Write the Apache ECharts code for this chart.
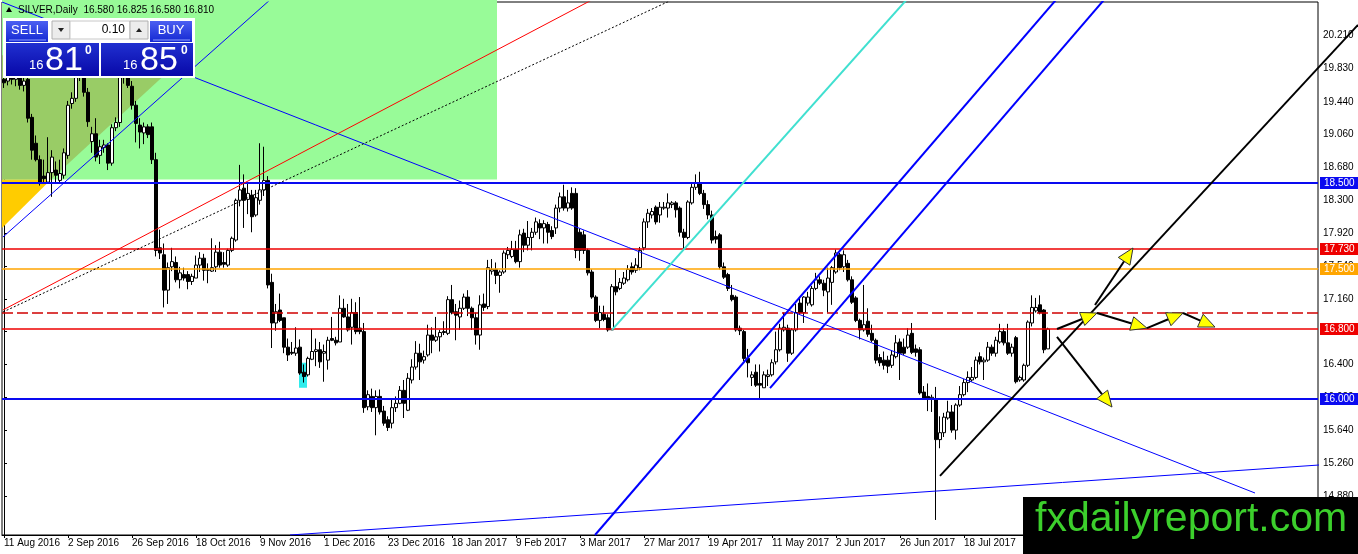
<!DOCTYPE html>
<html>
<head>
<meta charset="utf-8">
<script src="https://cdn.jsdelivr.net/npm/echarts@6/dist/echarts.min.js"></script>
<style>
  html, body { margin: 0; padding: 0; background: #fff; }
  #chart { width: 1358px; height: 554px; }
</style>
</head>
<body>
<div id="chart"></div>
<script>
// date labels, one every 16 bars
const dateLabels = ['11 Aug 2016', '2 Sep 2016', '26 Sep 2016', '18 Oct 2016', '9 Nov 2016', '1 Dec 2016',
  '23 Dec 2016', '18 Jan 2017', '9 Feb 2017', '3 Mar 2017', '27 Mar 2017', '19 Apr 2017', '11 May 2017',
  '2 Jun 2017', '26 Jun 2017', '18 Jul 2017']

// daily candles
const opens = [19.70,19.68,19.73,19.70,19.72,19.63,19.70,19.26,18.96,18.77,18.58,18.51,18.62,18.65,18.53,18.59,18.82,19.42,19.48,19.75,
  19.80,19.55,18.98,19.07,18.82,18.91,18.94,18.73,19.14,19.20,19.72,19.85,19.62,19.40,19.17,19.08,19.15,19.15,18.77,17.75,
  17.67,17.26,17.53,17.58,17.38,17.44,17.44,17.36,17.40,17.55,17.63,17.50,17.48,17.53,17.70,17.58,17.55,17.72,17.84,18.30,
  18.44,18.31,18.36,18.13,18.30,18.42,18.53,17.35,16.88,17.03,16.94,16.60,16.54,16.53,16.60,16.31,16.28,16.46,16.55,16.57,
  16.53,16.45,16.70,16.68,16.66,17.05,16.95,16.83,17.00,16.82,16.78,15.91,16.03,15.90,16.03,15.86,15.76,15.72,15.90,15.95,
  16.10,15.87,16.22,16.37,16.53,16.45,16.51,16.74,16.68,16.72,16.78,16.76,17.15,17.01,16.95,17.05,17.18,17.05,16.94,16.74,
  17.10,17.07,17.48,17.50,17.43,17.47,17.67,17.65,17.73,17.59,17.92,17.78,17.87,17.93,18.03,17.98,18.02,17.95,17.98,18.21,
  18.34,18.21,18.38,18.38,17.93,17.90,17.72,17.47,17.18,16.91,16.98,16.94,16.80,17.30,17.28,17.34,17.38,17.53,17.49,17.52,
  17.75,18.05,18.13,18.22,18.13,18.21,18.21,18.25,18.27,18.21,17.93,17.87,18.27,18.45,18.50,18.38,18.25,18.13,17.88,17.90,
  17.53,17.44,17.20,17.18,16.82,16.78,16.47,16.25,16.31,16.18,16.13,16.26,16.28,16.43,16.57,16.80,16.82,16.53,16.80,17.11,
  17.00,17.11,17.09,17.28,17.38,17.34,17.24,17.35,17.47,17.67,17.53,17.57,17.38,17.17,16.91,16.80,16.90,16.76,16.68,16.48,
  16.45,16.45,16.39,16.49,16.66,16.60,16.60,16.76,16.58,16.57,16.08,16.03,16.00,15.99,15.53,15.61,15.78,15.85,15.64,15.93,
  16.05,16.19,16.22,16.25,16.49,16.43,16.45,16.60,16.53,16.66,16.78,16.65,16.53,16.71,16.22,16.22,16.39,16.88,17.02,17.09,
  17.03,16.58]
const highs = [19.80,19.80,19.78,19.80,19.78,19.75,19.75,19.30,19.05,18.82,18.77,19.03,18.88,18.75,18.77,18.90,19.45,19.55,19.85,19.95,
  19.92,19.60,19.15,19.25,19.00,19.00,18.96,19.18,19.26,19.90,20.05,19.95,19.68,19.45,19.25,19.20,19.18,19.20,18.85,17.96,
  17.80,17.58,17.75,17.65,17.53,17.52,17.48,17.45,17.66,17.70,17.68,17.57,17.86,17.78,17.82,17.70,17.74,17.88,18.32,18.71,
  18.60,18.50,18.42,18.42,18.96,18.92,18.58,17.45,17.10,17.22,16.94,16.70,16.66,16.83,16.69,16.40,16.49,16.81,16.70,16.66,
  16.63,16.72,16.95,16.72,17.20,17.16,17.10,17.16,17.12,17.18,16.88,16.10,16.12,16.10,16.11,15.92,15.80,16.00,16.03,16.15,
  16.22,16.30,16.46,16.67,16.64,16.56,16.86,16.83,16.95,16.80,16.90,17.19,17.32,17.10,17.14,17.22,17.26,17.07,17.00,17.20,
  17.22,17.61,17.62,17.58,17.49,17.72,17.76,17.83,17.83,17.96,17.97,18.06,17.98,18.10,18.08,18.07,18.05,18.00,18.25,18.39,
  18.48,18.42,18.45,18.44,17.97,17.95,17.74,17.50,17.20,17.08,17.08,16.98,17.33,17.50,17.40,17.47,17.55,17.58,17.63,17.76,
  18.09,18.20,18.21,18.24,18.28,18.28,18.38,18.29,18.29,18.23,17.97,18.30,18.49,18.60,18.63,18.42,18.30,18.18,17.95,17.92,
  17.58,17.46,17.32,17.20,16.85,16.80,16.58,16.32,16.40,16.40,16.32,16.34,16.46,16.78,16.87,17.00,16.86,16.82,17.10,17.18,
  17.19,17.24,17.31,17.46,17.42,17.38,17.52,17.54,17.73,17.69,17.72,17.61,17.42,17.19,16.93,17.32,17.05,16.86,16.70,16.52,
  16.55,16.50,16.56,16.74,16.70,16.70,16.82,16.88,16.63,16.60,16.15,16.18,16.05,16.14,15.80,15.84,15.98,15.93,15.95,16.15,
  16.23,16.32,16.37,16.49,16.54,16.48,16.66,16.63,16.72,16.87,16.82,16.87,16.64,16.73,16.27,16.41,16.91,17.20,17.17,17.20,
  17.04,16.825]
const lows = [19.60,19.63,19.64,19.62,19.58,19.56,19.20,18.77,18.75,18.47,18.50,18.49,18.34,18.50,18.49,18.55,18.78,19.36,19.44,19.68,
  19.50,19.15,18.85,18.75,18.72,18.85,18.65,18.70,19.10,19.15,19.65,19.60,19.35,18.97,18.90,18.95,19.02,18.72,17.65,17.62,
  17.06,17.10,17.48,17.35,17.28,17.37,17.27,17.32,17.40,17.47,17.37,17.34,17.47,17.47,17.52,17.52,17.53,17.70,17.82,18.23,
  17.98,18.14,17.93,18.11,18.25,18.35,17.28,16.59,16.79,16.89,16.53,16.44,16.51,16.50,16.28,16.19,16.26,16.45,16.38,16.36,
  16.20,16.34,16.67,16.62,16.66,16.94,16.78,16.63,16.75,16.75,15.84,15.87,15.85,15.58,15.82,15.69,15.63,15.66,15.85,15.94,
  15.78,15.86,16.18,16.34,16.22,16.41,16.49,16.53,16.66,16.55,16.74,16.74,16.98,16.68,16.80,17.03,16.96,16.80,16.63,16.57,
  17.02,17.04,17.44,17.33,17.23,17.45,17.62,17.63,17.57,17.52,17.70,17.72,17.72,17.90,17.85,17.80,17.80,17.85,17.91,18.16,
  18.18,18.17,18.19,17.63,17.60,17.68,17.43,17.16,16.89,16.82,16.90,16.78,16.80,17.20,17.26,17.32,17.36,17.44,17.46,17.49,
  17.72,17.98,18.09,18.02,18.04,18.19,18.10,18.21,18.10,17.88,17.74,17.85,18.25,18.42,18.36,18.20,18.08,17.80,17.80,17.50,
  17.39,17.25,17.13,16.78,16.74,16.44,16.25,16.15,16.14,16.01,16.13,16.15,16.26,16.40,16.55,16.78,16.43,16.51,16.78,16.98,
  16.88,17.08,17.07,17.26,17.32,17.19,17.00,17.09,17.45,17.49,17.47,17.36,17.10,16.89,16.69,16.78,16.72,16.66,16.41,16.38,
  16.34,16.30,16.36,16.47,16.22,16.51,16.58,16.52,16.49,16.05,15.99,15.86,15.85,14.60,15.43,15.56,15.76,15.61,15.53,15.91,
  16.03,16.08,16.20,16.23,16.40,16.22,16.43,16.50,16.49,16.64,16.62,16.51,16.49,16.18,16.20,16.20,16.37,16.84,17.00,16.98,
  16.53,16.58]
const closes = [19.66,19.73,19.70,19.72,19.63,19.68,19.25,18.88,18.77,18.51,18.55,18.62,18.80,18.59,18.61,18.85,19.40,19.48,19.72,19.88,
  19.55,19.21,19.07,18.80,18.92,18.94,18.73,19.14,19.20,19.72,19.85,19.63,19.40,19.19,19.09,19.15,19.06,18.77,17.72,17.69,
  17.26,17.52,17.59,17.38,17.46,17.40,17.36,17.42,17.55,17.63,17.49,17.49,17.52,17.70,17.55,17.56,17.72,17.86,18.30,18.42,
  18.30,18.38,18.11,18.33,18.42,18.53,17.32,16.88,17.01,16.91,16.60,16.51,16.53,16.59,16.30,16.26,16.47,16.55,16.57,16.43,
  16.55,16.68,16.68,16.65,17.05,16.95,16.80,17.00,16.78,16.78,15.90,16.05,15.90,16.03,15.85,15.72,15.67,15.90,15.95,16.10,
  15.95,16.24,16.37,16.53,16.43,16.49,16.74,16.68,16.72,16.77,16.77,17.15,17.00,16.97,17.05,17.18,17.05,16.94,16.74,17.09,
  17.06,17.52,17.50,17.43,17.47,17.69,17.72,17.73,17.59,17.90,17.78,17.87,17.93,18.05,17.98,18.03,17.93,17.88,18.21,18.34,
  18.21,18.27,18.21,17.72,17.72,17.72,17.46,17.18,16.91,17.00,16.92,16.80,17.30,17.24,17.35,17.40,17.50,17.47,17.55,17.72,
  18.05,18.15,18.17,18.05,18.22,18.22,18.27,18.27,18.19,17.93,17.87,18.28,18.45,18.50,18.38,18.25,18.13,17.84,17.85,17.53,
  17.41,17.28,17.15,16.80,16.79,16.47,16.42,16.28,16.16,16.16,16.28,16.28,16.42,16.57,16.82,16.83,16.53,16.80,17.00,17.00,
  17.18,17.18,17.28,17.38,17.34,17.26,17.40,17.52,17.69,17.52,17.67,17.38,17.12,16.91,16.80,16.86,16.75,16.68,16.45,16.42,
  16.39,16.38,16.51,16.65,16.53,16.53,16.74,16.54,16.54,16.07,16.01,16.00,16.02,15.53,15.61,15.79,15.85,15.64,15.93,16.05,
  16.19,16.25,16.25,16.45,16.43,16.45,16.60,16.53,16.68,16.78,16.65,16.53,16.60,16.20,16.25,16.39,16.89,17.06,17.06,17.00,
  16.57,16.81]

// price scale
const yTicks = [14.88, 15.26, 15.64, 16.02, 16.40, 16.78, 17.16, 17.54, 17.92, 18.30, 18.68, 19.06, 19.44, 19.83, 20.21]
const yMin = 14.426
const yMax = 20.595
const slots = 329

// horizontal levels
const levelValues = [18.5, 17.73, 17.5, 17.0, 16.8, 16.0]
const levelColors = ['#0a0af0', '#ee0000', '#ffa500', '#d00000', '#ee0000', '#0a0af0']

// filled objects [bar, price]
const greenBox = [[-0.5, 18.54], [123.25, 18.54], [123.25, 20.7], [-0.5, 20.7]]
const goldLow = [[-0.5, 17.98], [-0.5, 18.54], [11.75, 18.54]]
const goldTop = [[-0.5, 18.54], [11.75, 18.54], [45.5, 19.98], [-0.5, 19.98]]
const cyanBox = [[73.75, 16.13], [75.75, 16.13], [75.75, 16.42], [73.75, 16.42]]

// trend lines [bar, price]
const blueDiag = [[-0.5, 20.595], [312.75, 14.912]]
const blueLow = [[71.5, 14.426], [330, 15.24]]
const blueTopLeft = [[-0.25, 17.875], [67, 20.64]]
const redDiag = [[-0.25, 17.03], [147, 20.62]]
const dotDiag = [[-0.25, 17.007], [167, 20.62]]
const cyanLine = [[152, 16.80], [226, 20.64]]
const channelA = [[147.75, 14.426], [263, 20.62]]
const channelB = [[191.5, 16.127], [275, 20.62]]
const blackTrend = [[234, 15.11], [338.5, 20.33]]

// arrows [bar1, price1, bar2, price2]
const arrowSegs = [
  [272.75, 17.088, 282.25, 17.748],
  [263.25, 16.81, 273.25, 16.995],
  [273.25, 16.995, 285.75, 16.82],
  [285.75, 16.82, 294.75, 16.995],
  [294.75, 16.995, 302.75, 16.833],
  [263.25, 16.718, 277, 15.907]
]

const font = "'Liberation Sans', Arial, sans-serif"
const shapes = [greenBox, goldLow, goldTop, cyanBox]
const shapeFill = ['#98fb98', '#ffcc00', '#99cc66', '#30ecec']

const trendSeries = (pts, color, width, type) => ({
  type: 'line',
  xAxisIndex: 1,
  data: pts,
  symbol: 'none',
  silent: true,
  z: 4,
  lineStyle: { color: color, width: width, type: type || 'solid' }
})

const labelEvery = (i) => i % 16 === 0 && i / 16 < dateLabels.length

const btnGrad = () => new echarts.graphic.LinearGradient(0, 0, 0, 1, [
  { offset: 0, color: '#4b5ff2' }, { offset: 1, color: '#1428d2' }])
const boxGrad = () => new echarts.graphic.LinearGradient(0, 0, 0, 1, [
  { offset: 0, color: '#2030d0' }, { offset: 1, color: '#0808a8' }])

const option = {
  animation: false,
  backgroundColor: '#fff',
  grid: { left: 2, right: 40, top: 2, bottom: 19, show: true, borderColor: '#000', borderWidth: 1 },
  xAxis: [
    {
      type: 'category',
      data: Array.from({ length: slots }, (_, i) => String(i)),
      boundaryGap: true,
      axisLine: { lineStyle: { color: '#000' } },
      axisTick: { show: true, interval: labelEvery, length: 3, alignWithLabel: true, lineStyle: { color: '#000' } },
      axisLabel: {
        interval: labelEvery,
        formatter: (v, i) => dateLabels[i / 16],
        align: 'left',
        margin: 3,
        color: '#000',
        fontSize: 10,
        fontFamily: font
      },
      splitLine: { show: false }
    },
    { type: 'value', min: -0.5, max: slots - 0.5, show: false }
  ],
  yAxis: {
    type: 'value',
    position: 'right',
    min: yMin,
    max: yMax,
    axisLine: { show: true, lineStyle: { color: '#000' } },
    axisTick: { show: true, length: 3, customValues: yTicks, lineStyle: { color: '#000' } },
    axisLabel: {
      customValues: yTicks,
      formatter: (v) => v.toFixed(3),
      margin: 5,
      color: '#000',
      fontSize: 10,
      fontFamily: font
    },
    splitLine: { show: false }
  },
  series: [
    {
      type: 'custom',
      xAxisIndex: 1,
      silent: true,
      z: 1,
      data: shapes.map((s, i) => [i, 17]),
      renderItem: (params, api) => ({
        type: 'polygon',
        shape: { points: shapes[params.dataIndex].map(p => api.coord(p)) },
        style: { fill: shapeFill[params.dataIndex] }
      })
    },
    {
      type: 'candlestick',
      xAxisIndex: 0,
      barWidth: 3,
      silent: true,
      z: 3,
      data: opens.map((o, i) => [o, closes[i], lows[i], highs[i]]),
      itemStyle: { color: '#fff', color0: '#000', borderColor: '#000', borderColor0: '#000', borderWidth: 1 }
    },
    {
      // horizontal levels with their price tags on the scale
      type: 'custom',
      xAxisIndex: 1,
      silent: true,
      clip: false,
      z: 4,
      data: levelValues.map((v, i) => [i, v]),
      renderItem: (params, api) => {
        const i = params.dataIndex
        const v = levelValues[i]
        const a = api.coord([-0.5, v])
        const b = api.coord([slots - 0.5, v])
        const thick = v === 18.5 || v === 16.0
        // keep each line on a two-pixel row pair so its colour stays visible
        const y = 2 * Math.round((a[1] - 1) / 2) + 1
        const children = [{
          type: 'line',
          shape: { x1: a[0], y1: y, x2: b[0], y2: y },
          style: { stroke: levelColors[i], lineWidth: thick ? 2 : 1.5, lineDash: v === 17.0 ? [11, 4] : null }
        }]
        if (v !== 17.0) {
          children.push({
            type: 'text',
            x: b[0] + 2,
            y: y,
            style: {
              text: v.toFixed(3), fill: '#fff', backgroundColor: levelColors[i], padding: [1, 4, 1, 4],
              font: '10px ' + font, verticalAlign: 'middle'
            }
          })
        }
        return { type: 'group', children: children }
      }
    },
    trendSeries(blueTopLeft, '#0000ff', 1),
    trendSeries(blueDiag, '#0000ff', 1),
    trendSeries(blueLow, '#0000ff', 1),
    trendSeries(redDiag, '#ff0000', 1),
    trendSeries(dotDiag, '#000', 1, [2, 2]),
    trendSeries(cyanLine, '#40e0d0', 2),
    trendSeries(channelA, '#0000ff', 2),
    trendSeries(channelB, '#0000ff', 2),
    {
      // black trend line runs on past the price scale, so it is drawn unclipped
      type: 'custom',
      xAxisIndex: 1,
      silent: true,
      clip: false,
      z: 5,
      data: [[0, 17]],
      renderItem: (params, api) => {
        const a = api.coord(blackTrend[0])
        const b = api.coord(blackTrend[1])
        return { type: 'line', shape: { x1: a[0], y1: a[1], x2: b[0], y2: b[1] }, style: { stroke: '#000', lineWidth: 2 } }
      }
    },
    {
      type: 'custom',
      xAxisIndex: 1,
      silent: true,
      z: 6,
      data: arrowSegs.map((s, i) => [i, 17]),
      renderItem: (params, api) => {
        const s = arrowSegs[params.dataIndex]
        const a = api.coord([s[0], s[1]])
        const b = api.coord([s[2], s[3]])
        const dx = b[0] - a[0], dy = b[1] - a[1]
        const len = Math.sqrt(dx * dx + dy * dy)
        const ux = dx / len, uy = dy / len
        const hl = 16, hw = 7
        const bx = b[0] - ux * hl, by = b[1] - uy * hl
        return {
          type: 'group',
          children: [
            { type: 'line', shape: { x1: a[0], y1: a[1], x2: bx, y2: by }, style: { stroke: '#000', lineWidth: 2 } },
            {
              type: 'polygon',
              shape: { points: [[b[0], b[1]], [bx - uy * hw, by + ux * hw], [bx + uy * hw, by - ux * hw]] },
              style: { fill: '#ffff00', stroke: '#333', lineWidth: 1 }
            }
          ]
        }
      }
    }
  ],
  graphic: [
    // header
    { type: 'polygon', z: 100, shape: { points: [[6, 12], [12, 12], [9, 7]] }, style: { fill: '#000' } },
    { type: 'text', z: 100, x: 18, y: 10, style: { text: 'SILVER,Daily  16.580 16.825 16.580 16.810', fill: '#000', font: '10px ' + font, verticalAlign: 'middle' } },
    // one click trading panel
    { type: 'rect', z: 100, shape: { x: 3, y: 18, width: 192, height: 60 }, style: { fill: '#fff' } },
    { type: 'rect', z: 101, shape: { x: 6, y: 21, width: 42, height: 21 }, style: { fill: btnGrad() } },
    { type: 'line', z: 102, shape: { x1: 9, y1: 40, x2: 46, y2: 40 }, style: { stroke: '#8fa0ff', lineWidth: 1 } },
    { type: 'text', z: 102, x: 27, y: 30, style: { text: 'SELL', fill: '#fff', font: '13px ' + font, align: 'center', verticalAlign: 'middle' } },
    { type: 'rect', z: 101, shape: { x: 52, y: 21, width: 18, height: 18 }, style: { fill: '#ececec', stroke: '#b0b0b0' } },
    { type: 'polygon', z: 102, shape: { points: [[58, 28], [64, 28], [61, 32]] }, style: { fill: '#222' } },
    { type: 'rect', z: 101, shape: { x: 70, y: 21, width: 60, height: 18 }, style: { fill: '#fff', stroke: '#c8c8c8' } },
    { type: 'text', z: 102, x: 125, y: 30, style: { text: '0.10', fill: '#000', font: '12px ' + font, align: 'right', verticalAlign: 'middle' } },
    { type: 'rect', z: 101, shape: { x: 130, y: 21, width: 18, height: 18 }, style: { fill: '#ececec', stroke: '#b0b0b0' } },
    { type: 'polygon', z: 102, shape: { points: [[136, 32], [142, 32], [139, 28]] }, style: { fill: '#222' } },
    { type: 'rect', z: 101, shape: { x: 150, y: 21, width: 42, height: 21 }, style: { fill: btnGrad() } },
    { type: 'line', z: 102, shape: { x1: 153, y1: 40, x2: 190, y2: 40 }, style: { stroke: '#8fa0ff', lineWidth: 1 } },
    { type: 'text', z: 102, x: 171, y: 30, style: { text: 'BUY', fill: '#fff', font: '13px ' + font, align: 'center', verticalAlign: 'middle' } },
    { type: 'rect', z: 101, shape: { x: 6, y: 43, width: 93, height: 33 }, style: { fill: boxGrad() } },
    { type: 'rect', z: 101, shape: { x: 101, y: 43, width: 92, height: 33 }, style: { fill: boxGrad() } },
    { type: 'text', z: 102, x: 29, y: 65, style: { text: '16', fill: '#fff', font: '13px ' + font, verticalAlign: 'middle' } },
    { type: 'text', z: 102, x: 45, y: 61, style: { text: '81', fill: '#fff', font: '34px ' + font, verticalAlign: 'middle' } },
    { type: 'text', z: 102, x: 85, y: 51, style: { text: '0', fill: '#fff', font: 'bold 12px ' + font, verticalAlign: 'middle' } },
    { type: 'text', z: 102, x: 123, y: 65, style: { text: '16', fill: '#fff', font: '13px ' + font, verticalAlign: 'middle' } },
    { type: 'text', z: 102, x: 140, y: 61, style: { text: '85', fill: '#fff', font: '34px ' + font, verticalAlign: 'middle' } },
    { type: 'text', z: 102, x: 181, y: 51, style: { text: '0', fill: '#fff', font: 'bold 12px ' + font, verticalAlign: 'middle' } },
    // watermark box
    { type: 'rect', z: 110, shape: { x: 1023, y: 497, width: 335, height: 57 }, style: { fill: '#000' } },
    { type: 'text', z: 111, x: 1035, y: 499, style: { text: 'fxdailyreport.com', fill: '#3ccf2c', font: '41px ' + font, verticalAlign: 'top' } }
  ]
}

const myChart = echarts.init(document.getElementById('chart'))
option && myChart.setOption(option)
</script>
</body>
</html>
